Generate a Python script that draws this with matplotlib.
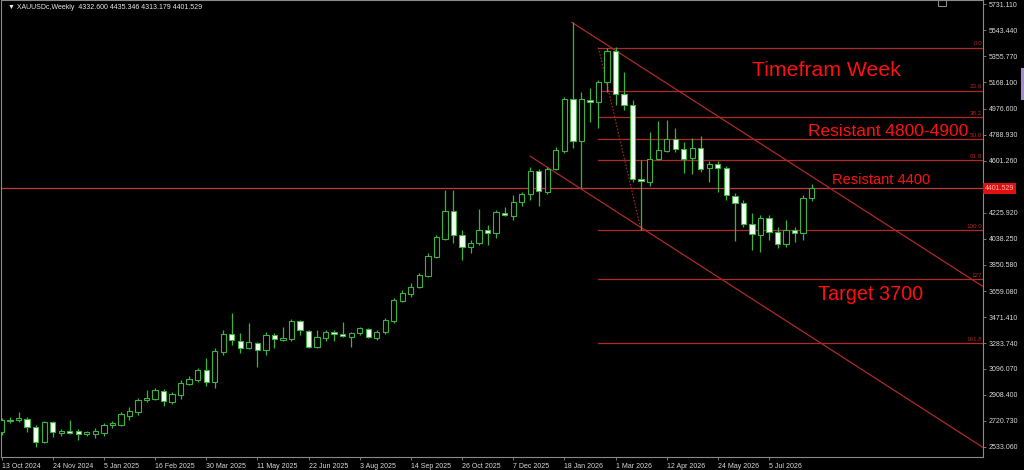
import matplotlib.pyplot as plt
import matplotlib.transforms as mtransforms
from matplotlib.patches import Rectangle

plt.rcParams['font.family'] = ['Liberation Sans', 'DejaVu Sans']

# weekly XAUUSD candles, 13 Oct 2024 -> last bar
opens = [2641, 2720, 2728, 2735, 2677, 2569, 2713, 2634, 2648, 2648,
         2627, 2627, 2634, 2691, 2691, 2756, 2785, 2872, 2879, 2937,
         2858, 2908, 2988, 3016, 3089, 3002, 3219, 3348, 3298, 3247,
         3284, 3233, 3341, 3305, 3312, 3442, 3370, 3255, 3320, 3363,
         3348, 3327, 3356, 3385, 3320, 3363, 3442, 3587, 3637, 3688,
         3767, 3904, 4034, 4237, 4063, 3977, 4006, 4099, 4078, 4222,
         4200, 4302, 4359, 4525, 4374, 4540, 4670, 5045, 4742, 5038,
         5024, 5168, 5392, 5081, 5002, 4468, 4446, 4612, 4670, 4756,
         4684, 4619, 4691, 4547, 4576, 4547, 4345, 4294, 4143, 4063,
         4186, 4085, 3998, 4099, 4078, 4332.600]
highs = [2742, 2749, 2785, 2749, 2691, 2720, 2720, 2663, 2728, 2663,
         2648, 2670, 2706, 2720, 2785, 2821, 2886, 2944, 2959, 2951,
         2930, 3016, 3045, 3103, 3175, 3247, 3377, 3500, 3356, 3428,
         3291, 3363, 3356, 3399, 3457, 3450, 3377, 3377, 3377, 3377,
         3435, 3363, 3399, 3392, 3377, 3464, 3608, 3666, 3717, 3789,
         3933, 4063, 4388, 4388, 4099, 4027, 4251, 4136, 4244, 4265,
         4352, 4374, 4554, 4540, 4554, 4699, 5060, 5601, 5096, 5125,
         5182, 5413, 5421, 5240, 5038, 4605, 4807, 4886, 4894, 4836,
         4735, 4764, 4778, 4598, 4598, 4561, 4367, 4316, 4222, 4208,
         4208, 4121, 4172, 4121, 4352, 4435.346]
lows = [2619, 2706, 2713, 2641, 2533, 2562, 2605, 2612, 2627, 2583,
        2612, 2598, 2612, 2670, 2684, 2728, 2764, 2858, 2872, 2829,
        2843, 2879, 2980, 3002, 2973, 2959, 3197, 3269, 3211, 3240,
        3110, 3197, 3247, 3298, 3298, 3341, 3247, 3247, 3298, 3298,
        3327, 3255, 3341, 3320, 3305, 3348, 3428, 3580, 3616, 3681,
        3760, 3897, 4027, 4006, 3883, 3933, 3991, 3991, 4042, 4200,
        4172, 4273, 4316, 4273, 4359, 4533, 4655, 4691, 4403, 4879,
        4836, 5096, 5002, 4966, 4446, 4100, 4417, 4605, 4663, 4663,
        4511, 4504, 4518, 4446, 4374, 4316, 4020, 4121, 3955, 3941,
        4027, 3969, 3977, 4013, 4027, 4313.179]
closes = [2728, 2728, 2742, 2677, 2569, 2713, 2641, 2648, 2634, 2627,
          2641, 2648, 2691, 2706, 2771, 2793, 2872, 2886, 2944, 2865,
          2915, 2995, 3024, 3089, 3002, 3226, 3348, 3305, 3247, 3291,
          3233, 3341, 3312, 3320, 3442, 3377, 3255, 3327, 3363, 3348,
          3334, 3356, 3392, 3327, 3363, 3450, 3594, 3645, 3688, 3775,
          3912, 4049, 4237, 4063, 3977, 4006, 4099, 4078, 4229, 4208,
          4302, 4359, 4525, 4381, 4540, 4677, 5045, 4742, 5045, 5024,
          5168, 5392, 5081, 5002, 4468, 4453, 4612, 4677, 4756, 4684,
          4612, 4691, 4540, 4576, 4547, 4352, 4294, 4143, 4071, 4186,
          4085, 3998, 4099, 4078, 4333, 4401.529]

date_labels = ['13 Oct 2024', '24 Nov 2024', '5 Jan 2025', '16 Feb 2025',
               '30 Mar 2025', '11 May 2025', '22 Jun 2025', '3 Aug 2025',
               '14 Sep 2025', '26 Oct 2025', '7 Dec 2025', '18 Jan 2026',
               '1 Mar 2026', '12 Apr 2026', '24 May 2026', '5 Jul 2026']
# 4413.590 sits under the bid label, so its text stays hidden
price_ticks = [5731.110, 5543.440, 5355.770, 5168.100, 4976.600, 4788.930,
               4601.260, 4413.590, 4225.920, 4038.250, 3850.580, 3659.080,
               3471.410, 3283.740, 3096.070, 2908.400, 2720.730, 2533.060]

# fibonacci retracement: anchors (bar index, price)
fib_start, fib_high = 70, 5420
fib_end, fib_low = 75, 4100
fib_levels = [0.0, 23.6, 38.2, 50.0, 61.8, 100.0, 127.0, 161.8]
fib_names = ['0.0', '23.6', '38.2', '50.0', '61.8', '100.0', '127', '161.8']

# descending channel (bar index, price)
upper_line = [(66.9, 5601), (115.2, 3688)]
lower_line = [(62.0, 4634), (115.2, 2525)]

bid = 4401.529
header = '\u25bc XAUUSDc,Weekly  4332.600 4435.346 4313.179 4401.529'

green = '#3db33d'
dark_red = '#b02828'
txt_red = '#ff1010'

fig = plt.figure(figsize=(10.24, 4.70), dpi=100, facecolor='black')
ax = fig.add_axes([0.0005, 0.0277, 0.9595, 0.9713])
ax.set_facecolor('black')

n = len(opens)
xs = list(range(n))
ax.vlines(xs, lows, highs, color=green, lw=0.9, zorder=2)
for i in xs:
    o, c = opens[i], closes[i]
    bottom = min(o, c)
    height = max(abs(c - o), 4)
    face = 'black' if c >= o else '#f4fff4'
    ax.bar(i, height, bottom=bottom, width=0.62, facecolor=face,
           edgecolor=green, linewidth=0.8, zorder=3)

# bid line
ax.axhline(bid, color='#c03a3a', lw=0.9, zorder=1)

# fibonacci
span = fib_high - fib_low
for lvl, name in zip(fib_levels, fib_names):
    p = fib_high - lvl / 100 * span
    ax.plot([fib_start, 200], [p, p], color=dark_red, lw=0.9, zorder=1)
    ax.text(115.0, p + 8, name, color=dark_red, fontsize=4.5,
            ha='right', va='bottom', zorder=4)
ax.plot([fib_start, fib_end], [fib_high, fib_low], color=dark_red,
        lw=0.8, ls=(0, (1.5, 1.5)), zorder=1)

# channel
for line in (upper_line, lower_line):
    ax.plot([line[0][0], line[1][0]], [line[0][1], line[1][1]],
            color=dark_red, lw=0.9, zorder=1)

# annotations
ax.text(88.0, 5255, 'Timefram Week', color=txt_red, fontsize=15.3, va='center')
ax.text(94.6, 4814, 'Resistant 4800-4900', color=txt_red, fontsize=12.5, va='center')
ax.text(97.4, 4460, 'Resistant 4400', color=txt_red, fontsize=10.5, va='center')
ax.text(95.7, 3637, 'Target 3700', color=txt_red, fontsize=14.3, va='center')

ax.set_xlim(-0.12, 115.1)
ax.set_ylim(2460, 5760)

ax.set_xticks(list(range(0, n, 6)))
ax.set_xticklabels(date_labels, ha='left')
ax.set_yticks(price_ticks)
ax.set_yticklabels(['' if abs(v - bid) < 50 else '%.3f' % v for v in price_ticks])
ax.yaxis.tick_right()
ax.tick_params(axis='both', colors='#8a8a8a', labelcolor='#d8d8d8',
               labelsize=5, length=2.5, width=0.6, pad=1.5)
for s in ax.spines.values():
    s.set_color('#8a8a8a')
    s.set_linewidth(0.8)

# bid price label on the axis
trans = mtransforms.blended_transform_factory(ax.transAxes, ax.transData)
ax.text(1.002, bid, '%.3f' % bid, transform=trans, fontsize=5,
        color='#ffb0b0', va='center', ha='left', clip_on=False, zorder=6,
        bbox=dict(boxstyle='square,pad=0.25', fc='#e01010', ec='none'))

# small chart-shift marker and scroll mark
fig.patches.append(Rectangle((0.916, 0.988), 0.008, 0.012, transform=fig.transFigure,
                             fc='none', ec='#8a8a8a', lw=0.8))
fig.patches.append(Rectangle((0.9975, 0.787), 0.0025, 0.068, transform=fig.transFigure,
                             fc='#a58cc8', ec='none'))

fig.text(0.008, 0.985, header, color='#e8e8e8', fontsize=5, va='center')

fig.savefig('out.png', dpi=100, facecolor='black')
